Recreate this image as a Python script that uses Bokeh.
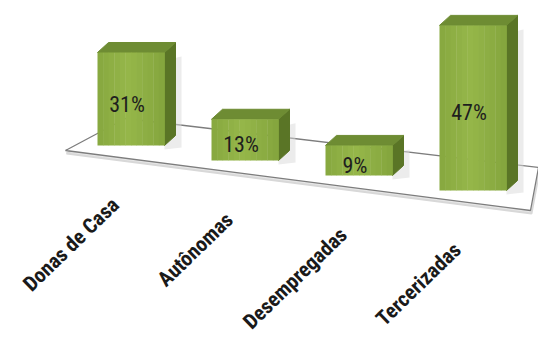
from bokeh.plotting import figure
from bokeh.models import Range1d
from bokeh.core.properties import value
from bokeh.embed import file_html
from bokeh.resources import INLINE

# ---- data ----
categories = ["Donas de Casa", "Autônomas", "Desempregadas", "Tercerizadas"]
percent = [31, 13, 9, 47]
labels = ["31%", "13%", "9%", "47%"]

# ---- layout (pixel-like scene coordinates, y grows downward) ----
W, H = 538, 338
X0, STEP, BW = 97, 114, 67          # front face left of first bar, spacing, width
B0, BSTEP = 145, 15                 # front bottom of first bar, drop per bar
K0, PERSP = 3.0, 0.057              # pixels per percent, growth toward the viewer
DX, DY = 11, 10                     # depth offset of top / side faces
FONT = "Liberation Sans Narrow, Roboto Condensed, DejaVu Sans Condensed, sans-serif"

TOP = "#6E8C33"
SIDE = "#5A7526"

p = figure(width=W, height=H, x_range=Range1d(0, W), y_range=Range1d(H, 0),
           output_backend="svg", toolbar_location=None, min_border=0)
p.axis.visible = False
p.grid.visible = False
p.outline_line_color = None
p.background_fill_color = "white"
p.border_fill_color = "white"

# floor (derived from the bar layout)
fx = [X0 - 32, X0 + 28, W, W - 8]
fy = [B0 + 5, B0 - 27, B0 + 22, B0 + 65]
p.patch([x + 1 for x in fx], [y + 3 for y in fy], fill_color="#e6e6e6",
        line_color="#d8d8d8", line_width=2)
p.patch(fx, fy, fill_color="white", line_color="#7d7d7d", line_width=1.3)

for i, v in enumerate(percent):
    left = X0 + i * STEP
    right = left + BW
    base = B0 + i * BSTEP
    top = base - v * K0 * (1 + PERSP * i)
    # soft shadow beside the bar
    p.patch([right, right + DX + 6, right + DX + 6, right],
            [top + 8, top + 4, base + 2, base + 4], fill_color="#d9d9d9",
            fill_alpha=0.5, line_color=None)
    # side face
    p.patch([right, right + DX, right + DX, right],
            [top, top - DY, base - DY, base], fill_color=SIDE, line_color=SIDE)
    # top face
    p.patch([left, left + DX, right + DX, right],
            [top, top - DY, top - DY, top], fill_color=TOP, line_color=TOP)
    # front face with a soft horizontal gradient
    strips = 12
    for s in range(strips):
        t = (s + 0.5) / strips
        k = 1 - abs(t - 0.45) * 1.6
        r = int(130 + 20 * k); g = int(163 + 20 * k); b = int(60 + 14 * k)
        x1 = left + BW * s / strips
        x2 = left + BW * (s + 1) / strips
        p.quad(left=x1, right=x2 + 0.4, top=top, bottom=base,
               fill_color=(r, g, b), line_color=None)
    # value label
    p.text(x=[left + BW / 2 - 4], y=[(top + base) / 2 + 5], text=[labels[i]],
           text_font=value(FONT), text_font_size="22px", text_color="#1e1e1e",
           text_align="center", text_baseline="middle")
    # category label
    p.text(x=[left + 18], y=[base + 56], text=[categories[i]],
           text_font=value(FONT), text_font_size="21px", text_font_style="bold",
           text_color="#1a1a1a", text_align="right", text_baseline="alphabetic",
           angle=0.77)

open("out.html", "w").write(file_html(p, INLINE))
